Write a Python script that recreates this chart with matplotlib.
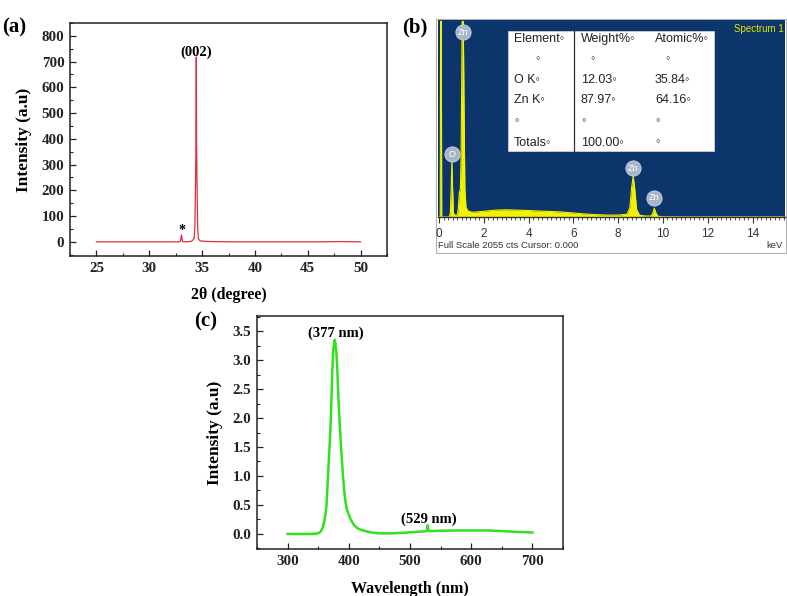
import matplotlib
matplotlib.use("Agg")
import matplotlib.pyplot as plt
from matplotlib.patches import Rectangle
from matplotlib.ticker import MultipleLocator, FormatStrFormatter

# ---------------- data ----------------
# (a) XRD pattern
xrd_2theta = [25.0, 27.0, 29.0, 31.0, 32.8, 32.95, 33.05, 33.15, 33.5, 34.0, 34.15, 34.25,
              34.32, 34.38, 34.42, 34.45, 34.48, 34.52, 34.58, 34.65, 34.8, 35.2, 36.0,
              38.0, 42.0, 46.0, 48.0, 50.0]
xrd_intensity = [0, 0, 0, 0, 0, 2, 27, 1, 0, 2, 8, 14,
                 60, 230, 390, 718, 390, 230, 60, 12, 4, 2, 1,
                 0, 0, 0, 1, 0]

# (b) EDS spectrum (keV, counts; full scale 2055 cts)
eds_kev = [0.0, 0.05, 0.065, 0.10, 0.115, 0.15, 0.45, 0.50, 0.54, 0.57, 0.60, 0.64,
           0.70, 0.82, 0.86, 0.90, 0.95, 0.98, 1.01, 1.03, 1.08, 1.11, 1.15, 1.20,
           1.30, 1.5, 2.0, 2.5, 3.0, 3.5, 4.0, 4.5, 5.0, 5.5, 6.0, 6.5, 7.0, 7.5, 8.0,
           8.4, 8.52, 8.60, 8.67, 8.74, 8.82, 8.95, 9.2, 9.45, 9.53, 9.61, 9.69, 9.77,
           10.0, 11.0, 12.0, 13.0, 14.0, 15.4]
eds_counts = [0, 0, 2055, 2055, 0, 0, 0, 40, 310, 600, 310, 40,
              20, 20, 100, 250, 300, 620, 1450, 2055, 2055, 1250, 300, 100,
              60, 50, 60, 72, 76, 72, 68, 62, 58, 52, 42, 32, 25, 20, 20,
              30, 100, 310, 430, 290, 80, 20, 10, 10, 30, 92, 40, 8,
              2, 1, 1, 1, 1, 1]
eds_peak_labels = ["O", "Zn", "Zn", "Zn"]
eds_peak_kev = [0.57, 1.055, 8.67, 9.61]
eds_peak_marker_counts = [660, 1940, 510, 200]

table_header = ["Element\u25e6", "Weight%\u25e6", "Atomic%\u25e6"]
table_rows = [["\u25e6", "\u25e6", "\u25e6"],
              ["O K\u25e6", "12.03\u25e6", "35.84\u25e6"],
              ["Zn K\u25e6", "87.97\u25e6", "64.16\u25e6"],
              ["\u25e6", "\u25e6", "\u25e6"],
              ["Totals\u25e6", "100.00\u25e6", "\u25e6"]]

# (c) PL spectrum
pl_wavelength = [300, 320, 340, 350, 354, 357, 360, 362, 363.6, 365.8, 367.5, 369, 370.7,
                 372, 373, 374.5, 376, 377, 378, 379.5, 381, 382.4, 384.6, 387.3, 390.5,
                 392.5, 394.6, 397, 400, 403, 408, 414, 420, 430, 440, 450, 470, 490,
                 510, 525, 528, 529, 530, 533, 550, 575, 600, 625, 650, 675, 700]
pl_intensity = [0.0, 0.0, 0.0, 0.01, 0.04, 0.1, 0.22, 0.35, 0.5, 0.95, 1.3, 1.6, 2.0,
                2.45, 2.8, 3.15, 3.3, 3.35, 3.3, 3.15, 2.9, 2.5, 2.0, 1.5, 1.0,
                0.75, 0.55, 0.42, 0.33, 0.25, 0.16, 0.1, 0.07, 0.04, 0.02, 0.01, 0.01, 0.02,
                0.035, 0.045, 0.06, 0.15, 0.06, 0.05, 0.055, 0.06, 0.06, 0.06, 0.05, 0.035,
                0.025]

# ---------------- figure ----------------
W, H = 787, 596
fig = plt.figure(figsize=(W / 100, H / 100), dpi=100)

serif = "Liberation Serif"
sans = ["Liberation Sans", "DejaVu Sans"]


def fig_rect(x0, y0, x1, y1):
    """pixel box (top-left origin) -> figure fraction rect"""
    return [x0 / W, 1 - y1 / H, (x1 - x0) / W, (y1 - y0) / H]


def style_sci(ax):
    for s in ax.spines.values():
        s.set_linewidth(1.1)
        s.set_color("#222222")
    ax.tick_params(which="both", direction="in", top=False, right=False,
                   labelsize=10.8, colors="#222222", pad=4)
    ax.tick_params(which="major", length=4, width=0.9)
    ax.tick_params(which="minor", length=2.5, width=0.8)
    for lab in ax.get_xticklabels() + ax.get_yticklabels():
        lab.set_fontfamily(serif)
        lab.set_fontweight("bold")


# ----- (a) -----
ax_a = fig.add_axes(fig_rect(70, 23, 387, 256))
ax_a.plot(xrd_2theta, xrd_intensity, color="#d9303a", lw=0.9)
ax_a.set_xlim(22.5, 52.5)
ax_a.set_ylim(-55, 850)
ax_a.set_xticks([25, 30, 35, 40, 45, 50])
ax_a.set_yticks([0, 100, 200, 300, 400, 500, 600, 700, 800])
ax_a.xaxis.set_minor_locator(MultipleLocator(2.5))
ax_a.yaxis.set_minor_locator(MultipleLocator(50))
style_sci(ax_a)
ax_a.set_ylabel("Intensity (a.u)", fontfamily=serif, fontweight="bold", fontsize=12.5,
                labelpad=7)
ax_a.set_xlabel("2\u03b8 (degree)", fontfamily=serif, fontweight="bold", fontsize=11.5,
                labelpad=9)
ax_a.text(34.45, 738, "(002)", ha="center", va="center", fontfamily=serif,
          fontweight="bold", fontsize=10.5)
ax_a.text(33.05, 45, "*", ha="center", va="center", fontfamily=serif,
          fontweight="bold", fontsize=10)
fig.text(2 / W, 1 - 27 / H, "(a)", fontfamily=serif, fontweight="bold", fontsize=15,
         ha="left", va="center")

# ----- (b) -----
navy = "#0b356b"
fig.patches.append(Rectangle((436 / W, 1 - 253 / H), (786 - 436) / W, (253 - 19) / H,
                             transform=fig.transFigure, facecolor="white",
                             edgecolor="#b0b0b0", lw=0.8, zorder=-5))
ax_b = fig.add_axes(fig_rect(438, 20, 785, 217))
ax_b.set_facecolor(navy)
ax_b.fill_between(eds_kev, eds_counts, 0, color="#f2f200", lw=0)
ax_b.plot(eds_kev, eds_counts, color="#f2f200", lw=0.8)
ax_b.set_xlim(-0.05, 15.45)
ax_b.set_ylim(0, 2070)
ax_b.set_yticks([])
ax_b.set_xticks(range(0, 16, 2))
ax_b.xaxis.set_minor_locator(MultipleLocator(0.2))
for s in ["top", "right", "left"]:
    ax_b.spines[s].set_visible(False)
ax_b.spines["bottom"].set_color("#333333")
ax_b.spines["bottom"].set_linewidth(1.0)
ax_b.tick_params(axis="x", which="major", direction="out", length=4, width=0.8,
                 colors="#333333", labelsize=8.5, pad=4)
ax_b.tick_params(axis="x", which="minor", direction="out", length=2, width=0.6,
                 colors="#333333")
for lab in ax_b.get_xticklabels():
    lab.set_fontfamily(sans)
    lab.set_color("#333333")

# peak marker circles
for lbl, kx, cy in zip(eds_peak_labels, eds_peak_kev, eds_peak_marker_counts):
    ax_b.plot([kx], [cy], marker="o", ms=11, mfc="#a9b6c9", mec="#c8d0dc", mew=0.6,
              zorder=5, clip_on=False)
    ax_b.text(kx, cy, lbl, ha="center", va="center", fontsize=6.5, color="white",
              fontfamily=sans, zorder=6, clip_on=False)

# element table
tx0, tx1, ty1, ty0 = 0.2017, 0.7954, 0.944, 0.337
ax_b.add_patch(Rectangle((tx0, ty0), tx1 - tx0, ty1 - ty0, transform=ax_b.transAxes,
                         facecolor="white", edgecolor="#dddddd", lw=0.5, zorder=7))
ax_b.plot([0.392, 0.392], [ty0, ty1], transform=ax_b.transAxes, color="#333333",
          lw=0.9, zorder=8)
col_x = [0.219, 0.412, 0.625]
row_y = [0.903, 0.801, 0.694, 0.592, 0.485, 0.378]
for j, h in enumerate(table_header):
    ax_b.text(col_x[j], row_y[0], h, transform=ax_b.transAxes, fontsize=9,
              fontfamily=sans, color="#222222", va="center", ha="left", zorder=9)
row1_x = [0.28, 0.44, 0.655]
for i, row in enumerate(table_rows):
    for j, cell in enumerate(row):
        xx = row1_x[j] if i == 0 else col_x[j]
        ax_b.text(xx, row_y[i + 1], cell, transform=ax_b.transAxes, fontsize=9,
                  fontfamily=sans, color="#222222", va="center", ha="left", zorder=9)

ax_b.text(0.995, 0.955, "Spectrum 1", transform=ax_b.transAxes, fontsize=7,
          fontfamily=sans, color="#e6e600", ha="right", va="center")
fig.text(438 / W, 1 - 246 / H, "Full Scale 2055 cts Cursor: 0.000", fontsize=6.8,
         fontfamily=sans, color="#333333", ha="left", va="center")
fig.text(783 / W, 1 - 246 / H, "keV", fontsize=6.8, fontfamily=sans, color="#333333",
         ha="right", va="center")
fig.text(402 / W, 1 - 27 / H, "(b)", fontfamily=serif, fontweight="bold", fontsize=15,
         ha="left", va="center")

# ----- (c) -----
ax_c = fig.add_axes(fig_rect(257, 316, 563, 549))
ax_c.plot(pl_wavelength, pl_intensity, color="#33e01f", lw=1.8)
ax_c.set_xlim(250, 750)
ax_c.set_ylim(-0.26, 3.76)
ax_c.set_xticks([300, 400, 500, 600, 700])
ax_c.set_yticks([0.0, 0.5, 1.0, 1.5, 2.0, 2.5, 3.0, 3.5])
ax_c.yaxis.set_major_formatter(FormatStrFormatter("%.1f"))
ax_c.xaxis.set_minor_locator(MultipleLocator(50))
ax_c.yaxis.set_minor_locator(MultipleLocator(0.25))
style_sci(ax_c)
ax_c.set_ylabel("Intensity (a.u)", fontfamily=serif, fontweight="bold", fontsize=12.5,
                labelpad=7)
ax_c.set_xlabel("Wavelength (nm)", fontfamily=serif, fontweight="bold", fontsize=11.5,
                labelpad=10)
ax_c.text(378, 3.47, "(377 nm)", ha="center", va="center", fontfamily=serif,
          fontweight="bold", fontsize=10.5)
ax_c.text(531, 0.26, "(529 nm)", ha="center", va="center", fontfamily=serif,
          fontweight="bold", fontsize=10.5)
fig.text(194 / W, 1 - 321 / H, "(c)", fontfamily=serif, fontweight="bold", fontsize=15,
         ha="left", va="center")

fig.savefig("out.png", dpi=100, facecolor="white")
